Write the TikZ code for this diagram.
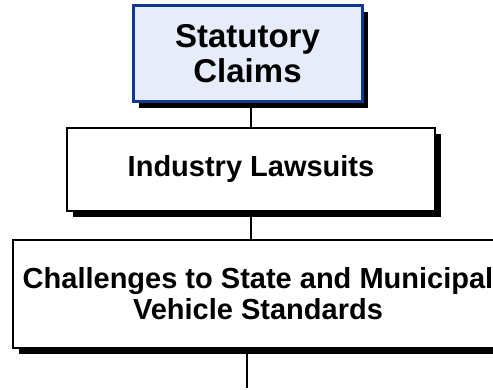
\documentclass[tikz,border=0pt]{standalone}
\usepackage{fontspec}
\setmainfont{Liberation Sans}
\usetikzlibrary{shadows,calc}
\definecolor{claimblue}{HTML}{0F3A8F}
\definecolor{claimfill}{HTML}{E6ECF9}

\begin{document}
\begin{tikzpicture}[
    x=1pt, y=1pt,
    level box/.style={
        draw, line width=2pt, fill=white, align=center,
        inner sep=0pt, outer sep=0pt,
        font=\fontsize{29}{31}\selectfont\bfseries,
        drop shadow={shadow xshift=6pt, shadow yshift=-6pt,
          fill=black, opacity=1}
      },
    top box/.style={
        level box, draw=claimblue, line width=3pt, fill=claimfill,
        font=\fontsize{33}{35}\selectfont\bfseries
      },
    link/.style={line width=2.6pt}
  ]
  \useasboundingbox (0,0) rectangle (493,390);

  % the three boxes, top to bottom
  \node[top box, minimum width=229pt, minimum height=96pt]
  (claims) at (247.5,336) {Statutory\\Claims};
  \node[level box, minimum width=368pt, minimum height=83pt]
  (suits) at (251,220.5) {Industry Lawsuits};
  \node[level box, minimum width=490pt, minimum height=108pt]
  (standards) at (258,96) {Challenges to State and Municipal\\Vehicle Standards};

  % connectors between the boxes
  \coordinate (tail) at (247,2);
  \draw[link] ([yshift=-6pt]claims.south -| suits.north) -- (suits.north);
  \draw[link] ([yshift=-6pt]suits.south) -- (suits.south |- standards.north);
  \draw[link] ([yshift=-6pt]standards.south -| tail) -- (tail);
\end{tikzpicture}
\end{document}
